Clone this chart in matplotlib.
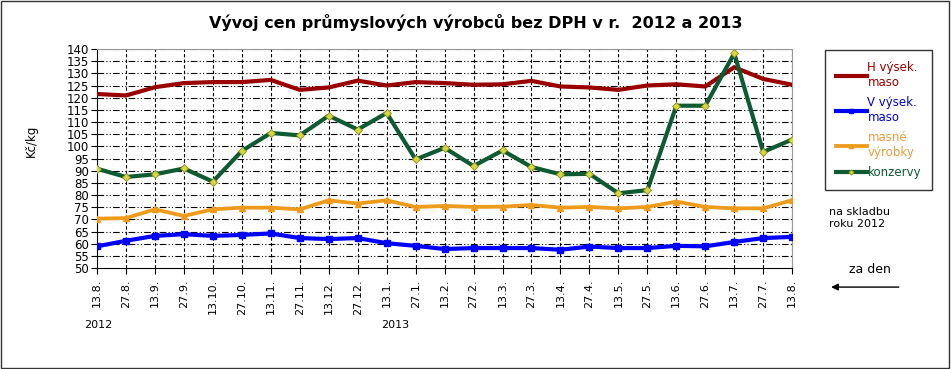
import matplotlib
matplotlib.use("Agg")
import matplotlib.pyplot as plt
from matplotlib.patches import Rectangle

# data
datumy = ["13.8.", "27.8.", "13.9.", "27.9.", "13.10.", "27.10.", "13.11.", "27.11.",
          "13.12.", "27.12.", "13.1.", "27.1.", "13.2.", "27.2.", "13.3.", "27.3.",
          "13.4.", "27.4.", "13.5.", "27.5.", "13.6.", "27.6.", "13.7.", "27.7.", "13.8."]
h_maso = [121.5, 120.9, 124.3, 126.0, 126.4, 126.4, 127.3, 123.2, 124.2, 127.0, 125.0, 126.4,
          126.0, 125.3, 125.5, 126.9, 124.6, 124.2, 123.2, 125.0, 125.5, 124.6, 132.5, 127.7, 125.3]
v_maso = [58.9, 61.2, 63.2, 63.9, 63.2, 63.6, 64.2, 62.3, 61.9, 62.3, 60.2, 59.1,
          57.8, 58.2, 58.2, 58.2, 57.5, 58.8, 58.2, 58.2, 59.1, 58.9, 60.7, 62.3, 62.8]
masne = [70.3, 70.5, 74.1, 71.4, 74.1, 74.8, 74.8, 74.1, 77.8, 76.5, 77.8, 75.1,
         75.5, 75.1, 75.2, 75.9, 74.8, 75.1, 74.5, 75.1, 77.3, 75.1, 74.5, 74.5, 77.9]
konzervy = [90.8, 87.4, 88.5, 90.9, 85.5, 98.1, 105.5, 104.5, 112.6, 106.9, 113.7, 94.6,
            99.4, 91.9, 98.3, 91.5, 88.5, 88.7, 80.7, 82.0, 116.7, 116.7, 138.2, 97.7, 102.8]
roky = ["2012", "2013"]

x = list(range(len(datumy)))

fig = plt.figure(figsize=(9.51, 3.69), dpi=100)
fig.patch.set_facecolor("white")
fig.add_artist(Rectangle((0.001, 0.002), 0.997, 0.995, transform=fig.transFigure,
                         fill=False, edgecolor="#333333", linewidth=1.0))

ax = fig.add_axes([0.102, 0.2737, 0.731, 0.5935])

# grid
for yy in range(55, 141, 5):
    ax.axhline(yy, color="black", linewidth=0.8, dashes=(6, 2, 1, 2, 1, 2), zorder=1)
for xx in x[1:]:
    ax.axvline(xx, color="black", linewidth=0.8, dashes=(3, 2), zorder=1)

ax.plot(x, h_maso, color="#990000", linewidth=3.0, zorder=3, label="H výsek.\nmaso")
ax.plot(x, v_maso, color="#0000ff", linewidth=3.0, marker="s", markersize=5,
        zorder=3, label="V výsek.\nmaso")
ax.plot(x, masne, color="#ee9a1a", linewidth=2.7, marker="^", markersize=5,
        zorder=3, label="masné\nvýrobky")
ax.plot(x, konzervy, color="#0e5a32", linewidth=3.0, marker="D", markersize=4.5,
        markerfacecolor="#d6d640", markeredgecolor="#8a8a20", markeredgewidth=0.6,
        zorder=4, label="konzervy")

ax.set_xlim(0, 24)
ax.set_ylim(50, 140)
ax.set_yticks(range(50, 141, 5))
ax.set_xticks(x)
ax.set_xticklabels(datumy, rotation=90, fontsize=8)
ax.tick_params(axis="y", labelsize=8.5, length=4, pad=2)
ax.tick_params(axis="x", length=4, pad=4)
ax.spines["top"].set_color("#999999")
ax.spines["right"].set_color("#999999")
ax.set_ylabel("Kč/kg", fontsize=8.5)
ax.yaxis.set_label_coords(-0.085, 0.58)

fig.text(0.5, 0.94, "Vývoj cen průmyslových výrobců bez DPH v r.  2012 a 2013",
         ha="center", va="center", fontsize=11.5, fontweight="bold",
         family=["Liberation Sans Narrow", "DejaVu Sans"])

fig.text(0.103, 0.119, roky[0], ha="center", va="center", fontsize=8)
fig.text(0.416, 0.119, roky[1], ha="center", va="center", fontsize=8)

# legend box
leg = fig.legend(loc="upper left", bbox_to_anchor=(0.868, 0.864), frameon=True,
                 fontsize=8.5, handlelength=2.6, markerscale=0.6,
                 handletextpad=0.05, borderpad=0.9, borderaxespad=0, labelspacing=0.6,
                 fancybox=False, edgecolor="black")
leg.get_frame().set_linewidth(1.0)
for t, c in zip(leg.get_texts(), ["#990000", "#0000cc", "#e0a040", "#0e5a32"]):
    t.set_color(c)

fig.text(0.872, 0.41, "na skladbu\nroku 2012", ha="left", va="center", fontsize=8,
         linespacing=1.3)
fig.text(0.915, 0.27, "za den", ha="center", va="center", fontsize=9)
ax.annotate("", xy=(0.871, 0.222), xytext=(0.948, 0.222), xycoords="figure fraction",
            arrowprops=dict(arrowstyle="-|>", color="black", lw=1, mutation_scale=10))

fig.savefig("out.png", dpi=100)
